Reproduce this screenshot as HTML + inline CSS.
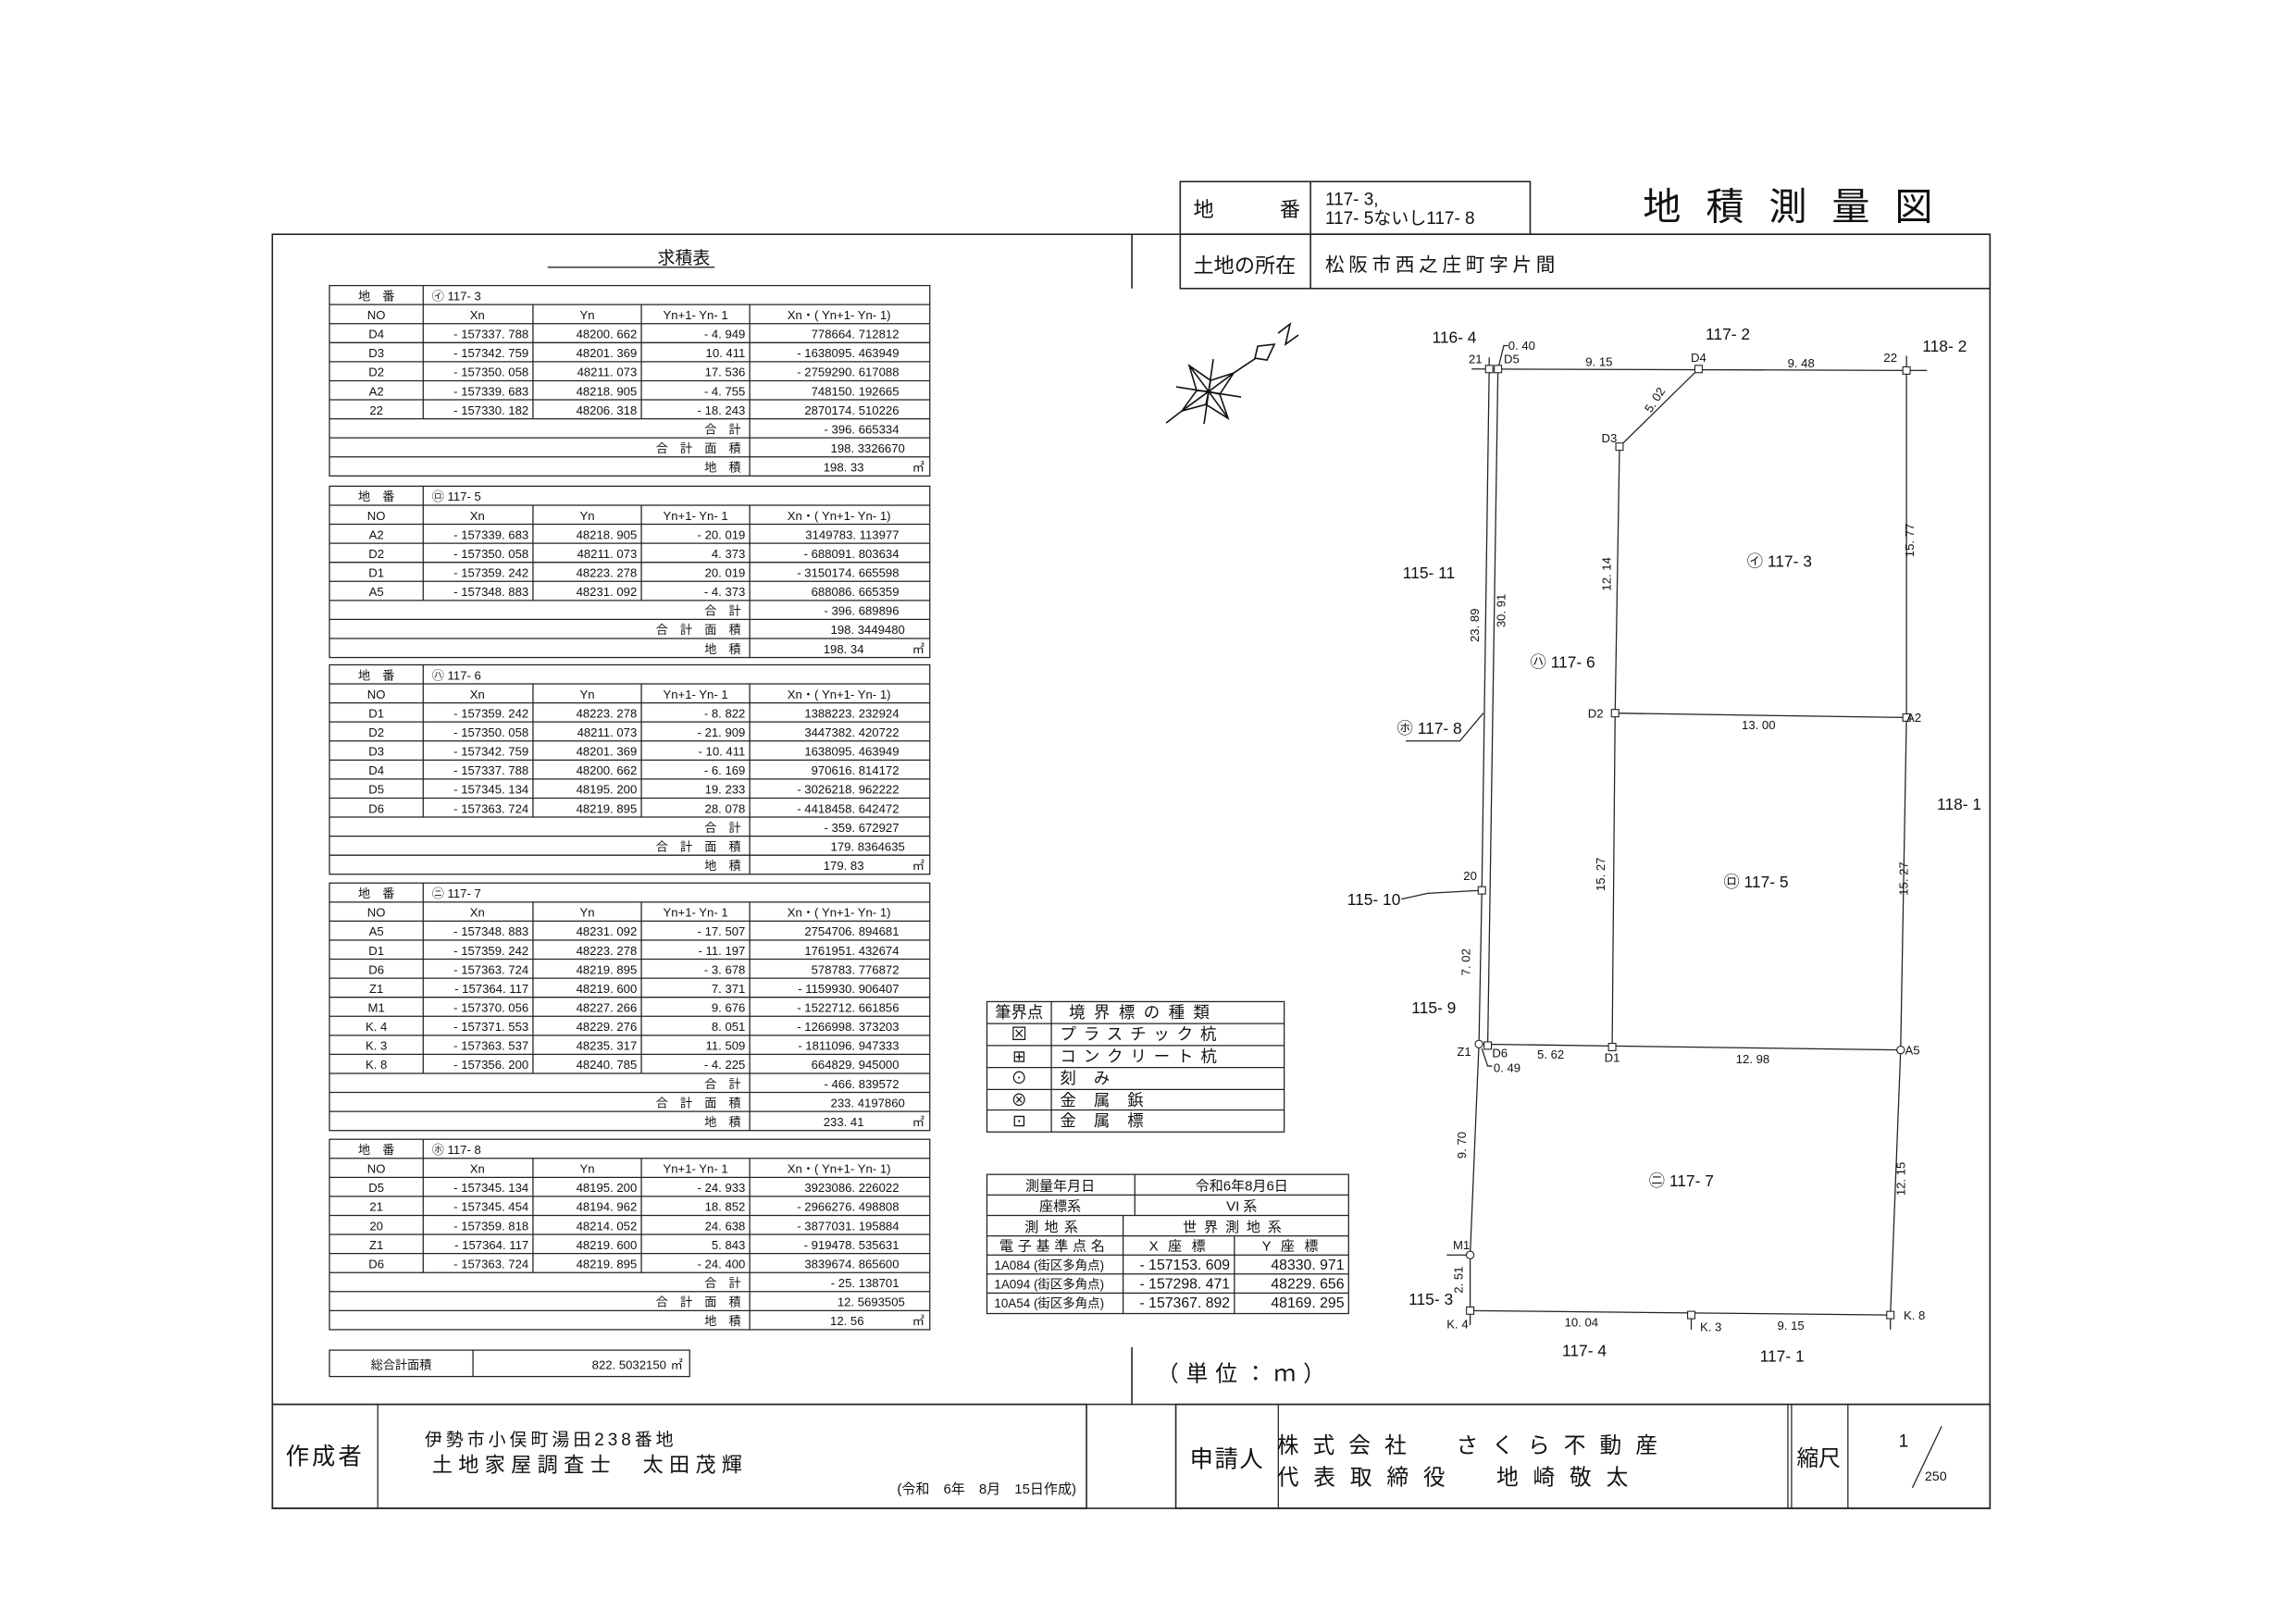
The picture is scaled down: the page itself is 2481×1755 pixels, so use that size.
<!DOCTYPE html>
<html><head><meta charset="utf-8"><style>
html,body{margin:0;padding:0;background:#fff;}
svg{display:block;}
text{font-family:"Liberation Sans","Noto Sans CJK JP",sans-serif;fill:#111;}
.t{font-size:8.3px;}
.e{text-anchor:end;}
.m{text-anchor:middle;}
.l{stroke:#222;stroke-width:0.8;fill:none;}
.th{stroke:#222;stroke-width:1;fill:none;}
.d{font-size:8.3px;}
.lb{font-size:11px;}
.pt{fill:#fff;stroke:#222;stroke-width:0.7;}
</style></head><body>
<svg width="2481" height="1755" viewBox="0 0 1568 1109" preserveAspectRatio="none" xmlns="http://www.w3.org/2000/svg">
<rect x="0" y="0" width="1568" height="1109" fill="#fff"/>

<!-- header boxes -->
<rect x="806" y="124" width="239" height="36" class="th"/>
<line x1="895" y1="124" x2="895" y2="197" class="th"/>
<text x="815" y="148" style="font-size:14px">地</text>
<text x="874" y="148" style="font-size:14px">番</text>
<text x="905" y="140" style="font-size:12px">117- 3,</text>
<text x="905" y="153" style="font-size:12px">117- 5ないし117- 8</text>
<text x="1122" y="150" style="font-size:26px;letter-spacing:17px">地積測量図</text>
<rect x="806" y="160" width="553" height="37" class="th"/>
<text x="815" y="186" style="font-size:14px">土地の所在</text>
<text x="905" y="185" style="font-size:13px;letter-spacing:3px">松阪市西之庄町字片間</text>

<!-- main frame -->
<rect x="186" y="160" width="1173" height="870" class="th"/>
<line x1="773" y1="160" x2="773" y2="197" class="th"/>
<line x1="186" y1="959" x2="1359" y2="959" class="th"/>
<line x1="773" y1="920" x2="773" y2="959" class="th"/>

<!-- 求積表 -->
<text x="467" y="180" class="m" style="font-size:12px">求積表</text>
<line x1="374" y1="182.5" x2="488" y2="182.5" class="l"/>

<!-- Table 1 -->
<g transform="translate(0,195)">
<rect x="225" y="0" width="410" height="130" class="l"/>
<path d="M225 13H635M225 26H635M225 39H635M225 52H635M225 65H635M225 78H635M225 91H635M225 104H635M225 117H635M289 0V91M364 13V91M438 13V91M512 13V130" class="l"/>
<text x="257" y="10" class="t m">地　番</text><text x="295" y="10" class="t">㋑ 117- 3</text>
<text x="257" y="23" class="t m">NO</text><text x="326" y="23" class="t m">Xn</text><text x="401" y="23" class="t m">Yn</text><text x="475" y="23" class="t m">Yn+1- Yn- 1</text><text x="573" y="23" class="t m">Xn・( Yn+1- Yn- 1)</text>
<text x="257" y="36" class="t m">D4</text><text x="361" y="36" class="t e">- 157337. 788</text><text x="435" y="36" class="t e">48200. 662</text><text x="509" y="36" class="t e">- 4. 949</text><text x="614" y="36" class="t e">778664. 712812</text>
<text x="257" y="49" class="t m">D3</text><text x="361" y="49" class="t e">- 157342. 759</text><text x="435" y="49" class="t e">48201. 369</text><text x="509" y="49" class="t e">10. 411</text><text x="614" y="49" class="t e">- 1638095. 463949</text>
<text x="257" y="62" class="t m">D2</text><text x="361" y="62" class="t e">- 157350. 058</text><text x="435" y="62" class="t e">48211. 073</text><text x="509" y="62" class="t e">17. 536</text><text x="614" y="62" class="t e">- 2759290. 617088</text>
<text x="257" y="75" class="t m">A2</text><text x="361" y="75" class="t e">- 157339. 683</text><text x="435" y="75" class="t e">48218. 905</text><text x="509" y="75" class="t e">- 4. 755</text><text x="614" y="75" class="t e">748150. 192665</text>
<text x="257" y="88" class="t m">22</text><text x="361" y="88" class="t e">- 157330. 182</text><text x="435" y="88" class="t e">48206. 318</text><text x="509" y="88" class="t e">- 18. 243</text><text x="614" y="88" class="t e">2870174. 510226</text>
<text x="506" y="101" class="t e">合　計</text><text x="614" y="101" class="t e">- 396. 665334</text>
<text x="506" y="114" class="t e">合　計　面　積</text><text x="618" y="114" class="t e">198. 3326670</text>
<text x="506" y="127" class="t e">地　積</text><text x="590" y="127" class="t e">198. 33</text><text x="623" y="127" class="t">㎡</text>
</g>

<!-- Table 2 -->
<g transform="translate(0,332)">
<rect x="225" y="0" width="410" height="117" class="l"/>
<path d="M225 13H635M225 26H635M225 39H635M225 52H635M225 65H635M225 78H635M225 91H635M225 104H635M289 0V78M364 13V78M438 13V78M512 13V117" class="l"/>
<text x="257" y="10" class="t m">地　番</text><text x="295" y="10" class="t">㋺ 117- 5</text>
<text x="257" y="23" class="t m">NO</text><text x="326" y="23" class="t m">Xn</text><text x="401" y="23" class="t m">Yn</text><text x="475" y="23" class="t m">Yn+1- Yn- 1</text><text x="573" y="23" class="t m">Xn・( Yn+1- Yn- 1)</text>
<text x="257" y="36" class="t m">A2</text><text x="361" y="36" class="t e">- 157339. 683</text><text x="435" y="36" class="t e">48218. 905</text><text x="509" y="36" class="t e">- 20. 019</text><text x="614" y="36" class="t e">3149783. 113977</text>
<text x="257" y="49" class="t m">D2</text><text x="361" y="49" class="t e">- 157350. 058</text><text x="435" y="49" class="t e">48211. 073</text><text x="509" y="49" class="t e">4. 373</text><text x="614" y="49" class="t e">- 688091. 803634</text>
<text x="257" y="62" class="t m">D1</text><text x="361" y="62" class="t e">- 157359. 242</text><text x="435" y="62" class="t e">48223. 278</text><text x="509" y="62" class="t e">20. 019</text><text x="614" y="62" class="t e">- 3150174. 665598</text>
<text x="257" y="75" class="t m">A5</text><text x="361" y="75" class="t e">- 157348. 883</text><text x="435" y="75" class="t e">48231. 092</text><text x="509" y="75" class="t e">- 4. 373</text><text x="614" y="75" class="t e">688086. 665359</text>
<text x="506" y="88" class="t e">合　計</text><text x="614" y="88" class="t e">- 396. 689896</text>
<text x="506" y="101" class="t e">合　計　面　積</text><text x="618" y="101" class="t e">198. 3449480</text>
<text x="506" y="114" class="t e">地　積</text><text x="590" y="114" class="t e">198. 34</text><text x="623" y="114" class="t">㎡</text>
</g>

<!-- Table 3 -->
<g transform="translate(0,454)">
<rect x="225" y="0" width="410" height="143" class="l"/>
<path d="M225 13H635M225 26H635M225 39H635M225 52H635M225 65H635M225 78H635M225 91H635M225 104H635M225 117H635M225 130H635M289 0V104M364 13V104M438 13V104M512 13V143" class="l"/>
<text x="257" y="10" class="t m">地　番</text><text x="295" y="10" class="t">㋩ 117- 6</text>
<text x="257" y="23" class="t m">NO</text><text x="326" y="23" class="t m">Xn</text><text x="401" y="23" class="t m">Yn</text><text x="475" y="23" class="t m">Yn+1- Yn- 1</text><text x="573" y="23" class="t m">Xn・( Yn+1- Yn- 1)</text>
<text x="257" y="36" class="t m">D1</text><text x="361" y="36" class="t e">- 157359. 242</text><text x="435" y="36" class="t e">48223. 278</text><text x="509" y="36" class="t e">- 8. 822</text><text x="614" y="36" class="t e">1388223. 232924</text>
<text x="257" y="49" class="t m">D2</text><text x="361" y="49" class="t e">- 157350. 058</text><text x="435" y="49" class="t e">48211. 073</text><text x="509" y="49" class="t e">- 21. 909</text><text x="614" y="49" class="t e">3447382. 420722</text>
<text x="257" y="62" class="t m">D3</text><text x="361" y="62" class="t e">- 157342. 759</text><text x="435" y="62" class="t e">48201. 369</text><text x="509" y="62" class="t e">- 10. 411</text><text x="614" y="62" class="t e">1638095. 463949</text>
<text x="257" y="75" class="t m">D4</text><text x="361" y="75" class="t e">- 157337. 788</text><text x="435" y="75" class="t e">48200. 662</text><text x="509" y="75" class="t e">- 6. 169</text><text x="614" y="75" class="t e">970616. 814172</text>
<text x="257" y="88" class="t m">D5</text><text x="361" y="88" class="t e">- 157345. 134</text><text x="435" y="88" class="t e">48195. 200</text><text x="509" y="88" class="t e">19. 233</text><text x="614" y="88" class="t e">- 3026218. 962222</text>
<text x="257" y="101" class="t m">D6</text><text x="361" y="101" class="t e">- 157363. 724</text><text x="435" y="101" class="t e">48219. 895</text><text x="509" y="101" class="t e">28. 078</text><text x="614" y="101" class="t e">- 4418458. 642472</text>
<text x="506" y="114" class="t e">合　計</text><text x="614" y="114" class="t e">- 359. 672927</text>
<text x="506" y="127" class="t e">合　計　面　積</text><text x="618" y="127" class="t e">179. 8364635</text>
<text x="506" y="140" class="t e">地　積</text><text x="590" y="140" class="t e">179. 83</text><text x="623" y="140" class="t">㎡</text>
</g>

<!-- Table 4 -->
<g transform="translate(0,603)">
<rect x="225" y="0" width="410" height="169" class="l"/>
<path d="M225 13H635M225 26H635M225 39H635M225 52H635M225 65H635M225 78H635M225 91H635M225 104H635M225 117H635M225 130H635M225 143H635M225 156H635M289 0V130M364 13V130M438 13V130M512 13V169" class="l"/>
<text x="257" y="10" class="t m">地　番</text><text x="295" y="10" class="t">㋥ 117- 7</text>
<text x="257" y="23" class="t m">NO</text><text x="326" y="23" class="t m">Xn</text><text x="401" y="23" class="t m">Yn</text><text x="475" y="23" class="t m">Yn+1- Yn- 1</text><text x="573" y="23" class="t m">Xn・( Yn+1- Yn- 1)</text>
<text x="257" y="36" class="t m">A5</text><text x="361" y="36" class="t e">- 157348. 883</text><text x="435" y="36" class="t e">48231. 092</text><text x="509" y="36" class="t e">- 17. 507</text><text x="614" y="36" class="t e">2754706. 894681</text>
<text x="257" y="49" class="t m">D1</text><text x="361" y="49" class="t e">- 157359. 242</text><text x="435" y="49" class="t e">48223. 278</text><text x="509" y="49" class="t e">- 11. 197</text><text x="614" y="49" class="t e">1761951. 432674</text>
<text x="257" y="62" class="t m">D6</text><text x="361" y="62" class="t e">- 157363. 724</text><text x="435" y="62" class="t e">48219. 895</text><text x="509" y="62" class="t e">- 3. 678</text><text x="614" y="62" class="t e">578783. 776872</text>
<text x="257" y="75" class="t m">Z1</text><text x="361" y="75" class="t e">- 157364. 117</text><text x="435" y="75" class="t e">48219. 600</text><text x="509" y="75" class="t e">7. 371</text><text x="614" y="75" class="t e">- 1159930. 906407</text>
<text x="257" y="88" class="t m">M1</text><text x="361" y="88" class="t e">- 157370. 056</text><text x="435" y="88" class="t e">48227. 266</text><text x="509" y="88" class="t e">9. 676</text><text x="614" y="88" class="t e">- 1522712. 661856</text>
<text x="257" y="101" class="t m">K. 4</text><text x="361" y="101" class="t e">- 157371. 553</text><text x="435" y="101" class="t e">48229. 276</text><text x="509" y="101" class="t e">8. 051</text><text x="614" y="101" class="t e">- 1266998. 373203</text>
<text x="257" y="114" class="t m">K. 3</text><text x="361" y="114" class="t e">- 157363. 537</text><text x="435" y="114" class="t e">48235. 317</text><text x="509" y="114" class="t e">11. 509</text><text x="614" y="114" class="t e">- 1811096. 947333</text>
<text x="257" y="127" class="t m">K. 8</text><text x="361" y="127" class="t e">- 157356. 200</text><text x="435" y="127" class="t e">48240. 785</text><text x="509" y="127" class="t e">- 4. 225</text><text x="614" y="127" class="t e">664829. 945000</text>
<text x="506" y="140" class="t e">合　計</text><text x="614" y="140" class="t e">- 466. 839572</text>
<text x="506" y="153" class="t e">合　計　面　積</text><text x="618" y="153" class="t e">233. 4197860</text>
<text x="506" y="166" class="t e">地　積</text><text x="590" y="166" class="t e">233. 41</text><text x="623" y="166" class="t">㎡</text>
</g>

<!-- Table 5 -->
<g transform="translate(0,778)">
<rect x="225" y="0" width="410" height="130" class="l"/>
<path d="M225 13H635M225 26H635M225 39H635M225 52H635M225 65H635M225 78H635M225 91H635M225 104H635M225 117H635M289 0V91M364 13V91M438 13V91M512 13V130" class="l"/>
<text x="257" y="10" class="t m">地　番</text><text x="295" y="10" class="t">㋭ 117- 8</text>
<text x="257" y="23" class="t m">NO</text><text x="326" y="23" class="t m">Xn</text><text x="401" y="23" class="t m">Yn</text><text x="475" y="23" class="t m">Yn+1- Yn- 1</text><text x="573" y="23" class="t m">Xn・( Yn+1- Yn- 1)</text>
<text x="257" y="36" class="t m">D5</text><text x="361" y="36" class="t e">- 157345. 134</text><text x="435" y="36" class="t e">48195. 200</text><text x="509" y="36" class="t e">- 24. 933</text><text x="614" y="36" class="t e">3923086. 226022</text>
<text x="257" y="49" class="t m">21</text><text x="361" y="49" class="t e">- 157345. 454</text><text x="435" y="49" class="t e">48194. 962</text><text x="509" y="49" class="t e">18. 852</text><text x="614" y="49" class="t e">- 2966276. 498808</text>
<text x="257" y="62" class="t m">20</text><text x="361" y="62" class="t e">- 157359. 818</text><text x="435" y="62" class="t e">48214. 052</text><text x="509" y="62" class="t e">24. 638</text><text x="614" y="62" class="t e">- 3877031. 195884</text>
<text x="257" y="75" class="t m">Z1</text><text x="361" y="75" class="t e">- 157364. 117</text><text x="435" y="75" class="t e">48219. 600</text><text x="509" y="75" class="t e">5. 843</text><text x="614" y="75" class="t e">- 919478. 535631</text>
<text x="257" y="88" class="t m">D6</text><text x="361" y="88" class="t e">- 157363. 724</text><text x="435" y="88" class="t e">48219. 895</text><text x="509" y="88" class="t e">- 24. 400</text><text x="614" y="88" class="t e">3839674. 865600</text>
<text x="506" y="101" class="t e">合　計</text><text x="614" y="101" class="t e">- 25. 138701</text>
<text x="506" y="114" class="t e">合　計　面　積</text><text x="618" y="114" class="t e">12. 5693505</text>
<text x="506" y="127" class="t e">地　積</text><text x="590" y="127" class="t e">12. 56</text><text x="623" y="127" class="t">㎡</text>
</g>

<!-- total -->
<rect x="225" y="922" width="246" height="18" class="l"/>
<line x1="323" y1="922" x2="323" y2="940" class="l"/>
<text x="274" y="935" class="t m">総合計面積</text>
<text x="455" y="935" class="t e">822. 5032150</text><text x="458" y="935" class="t">㎡</text>

<!-- legend -->
<rect x="674" y="684" width="203" height="89" class="l"/>
<path d="M674 699H877M674 714H877M674 729H877M674 744H877M674 758H877M718 684V773" class="l"/>
<text x="696" y="695" class="m" style="font-size:11px">筆界点</text>
<text x="730" y="695" style="font-size:11px;letter-spacing:6px">境界標の種類</text>
<text x="696" y="710" class="m" style="font-size:11px">⊠</text><text x="724" y="710" style="font-size:11px;letter-spacing:5px">プラスチック杭</text>
<text x="696" y="725" class="m" style="font-size:11px">⊞</text><text x="724" y="725" style="font-size:11px;letter-spacing:5px">コンクリート杭</text>
<text x="696" y="740" class="m" style="font-size:11px">⊙</text><text x="724" y="740" style="font-size:11px;letter-spacing:12px">刻み</text>
<text x="696" y="755" class="m" style="font-size:11px">⊗</text><text x="724" y="755" style="font-size:11px;letter-spacing:12px">金属鋲</text>
<text x="696" y="769" class="m" style="font-size:11px">⊡</text><text x="724" y="769" style="font-size:11px;letter-spacing:12px">金属標</text>

<!-- survey table -->
<rect x="674" y="802" width="247" height="95" class="l"/>
<path d="M674 816H921M674 830H921M674 844H921M674 857H921M674 870H921M674 883H921M775 802V830M767 830V897M843 844V897" class="l"/>
<text x="724" y="813" class="m" style="font-size:9.5px">測量年月日</text><text x="848" y="813" class="m" style="font-size:9.5px">令和6年8月6日</text>
<text x="724" y="827" class="m" style="font-size:9.5px">座標系</text><text x="848" y="827" class="m" style="font-size:9.5px">VI 系</text>
<text x="720" y="841" class="m" style="font-size:9.5px;letter-spacing:4px">測地系</text><text x="844" y="841" class="m" style="font-size:9.5px;letter-spacing:5px">世界測地系</text>
<text x="720" y="854" class="m" style="font-size:9.5px;letter-spacing:3px">電子基準点名</text><text x="805" y="854" class="m" style="font-size:9.5px;letter-spacing:2px">X 座 標</text><text x="882" y="854" class="m" style="font-size:9.5px;letter-spacing:2px">Y 座 標</text>
<text x="679" y="867" style="font-size:8.5px">1A084 (街区多角点)</text><text x="840" y="867" class="e" style="font-size:10px">- 157153. 609</text><text x="918" y="867" class="e" style="font-size:10px">48330. 971</text>
<text x="679" y="880" style="font-size:8.5px">1A094 (街区多角点)</text><text x="840" y="880" class="e" style="font-size:10px">- 157298. 471</text><text x="918" y="880" class="e" style="font-size:10px">48229. 656</text>
<text x="679" y="893" style="font-size:8.5px">10A54 (街区多角点)</text><text x="840" y="893" class="e" style="font-size:10px">- 157367. 892</text><text x="918" y="893" class="e" style="font-size:10px">48169. 295</text>

<!-- compass -->
<g transform="scale(0.63203)" stroke="#111" stroke-width="1.6" fill="none">
<polygon points="1285,395 1308,411 1333,403 1318,426 1327,452 1303,437 1277,444 1293,422"/>
<path d="M1306,423L1285,395M1306,423L1333,403M1306,423L1327,452M1306,423L1277,444M1306,423L1308,411M1306,423L1318,426M1306,423L1303,437M1306,423L1293,422"/>
<path d="M1271,418L1341,429M1311,388L1301,458M1260,457L1277,444M1333,403L1357,387"/>
<polygon points="1356,387 1359,374 1377,372 1369,389"/>
<path d="M1381,360L1394,350L1389,372L1403,362"/>
</g>

<!-- parcel drawing -->
<g class="l">
<path d="M1005,252L1316,253"/>
<path d="M1017,244L1017,252L1012,608L1010,713L1004,857L1004,905"/>
<path d="M1023,252L1016,714"/>
<path d="M1160,252L1106,305L1103,487L1101,715"/>
<path d="M1302,243L1302,253L1302,490L1298,717L1291,898L1291,908"/>
<path d="M1103,487L1302,490"/>
<path d="M1010,713L1298,717"/>
<path d="M1004,895L1291,898"/>
<path d="M1155,898L1155,908"/>
<path d="M988,857L1004,857"/>
<path d="M1013,487L997,506L960,506"/>
<path d="M1012,608L975,610L957,614"/>
<path d="M1023,252L1027,236L1030,236"/>
<path d="M1012,716L1016,728L1019,728"/>
</g>
<rect x="1014.5" y="249.5" width="5" height="5" class="pt"/>
<rect x="1020.5" y="249.5" width="5" height="5" class="pt"/>
<rect x="1157.5" y="249.5" width="5" height="5" class="pt"/>
<rect x="1299.5" y="250.5" width="5" height="5" class="pt"/>
<rect x="1103.5" y="302.5" width="5" height="5" class="pt"/>
<rect x="1100.5" y="484.5" width="5" height="5" class="pt"/>
<rect x="1299.5" y="487.5" width="5" height="5" class="pt"/>
<rect x="1009.5" y="605.5" width="5" height="5" class="pt"/>
<circle cx="1010" cy="713" r="2.6" class="pt"/>
<rect x="1013.5" y="711.5" width="5" height="5" class="pt"/>
<rect x="1098.5" y="712.5" width="5" height="5" class="pt"/>
<circle cx="1298" cy="717" r="2.6" class="pt"/>
<circle cx="1004" cy="857" r="2.6" class="pt"/>
<rect x="1001.5" y="892.5" width="5" height="5" class="pt"/>
<rect x="1152.5" y="895.5" width="5" height="5" class="pt"/>
<rect x="1288.5" y="895.5" width="5" height="5" class="pt"/>

<text x="978" y="234" class="lb">116- 4</text>
<text x="1030" y="239" class="d">0. 40</text>
<text x="1003" y="248" class="d">21</text>
<text x="1027" y="248" class="d">D5</text>
<text x="1092" y="250" class="d m">9. 15</text>
<text x="1160" y="247" class="d m">D4</text>
<text x="1230" y="251" class="d m">9. 48</text>
<text x="1291" y="247" class="d m">22</text>
<text x="1180" y="232" class="lb m">117- 2</text>
<text x="1328" y="240" class="lb m">118- 2</text>
<text x="1130" y="276" class="d m" transform="rotate(-57 1130 273)">5. 02</text>
<text x="1099" y="302" class="d m">D3</text>
<text x="1103" y="395" class="d m" transform="rotate(-90 1100 395)">12. 14</text>
<text x="1310" y="372" class="d m" transform="rotate(-90 1307 372)">15. 77</text>
<text x="1193" y="387" class="lb">㋑ 117- 3</text>
<text x="958" y="395" class="lb">115- 11</text>
<text x="1013" y="430" class="d m" transform="rotate(-90 1010 430)">23. 89</text>
<text x="1031" y="420" class="d m" transform="rotate(-90 1028 420)">30. 91</text>
<text x="1045" y="456" class="lb">㋩ 117- 6</text>
<text x="1095" y="490" class="d e">D2</text>
<text x="1201" y="498" class="d m">13. 00</text>
<text x="1302" y="493" class="d">A2</text>
<text x="1338" y="553" class="lb m">118- 1</text>
<text x="954" y="501" class="lb">㋭ 117- 8</text>
<text x="1099" y="600" class="d m" transform="rotate(-90 1096 600)">15. 27</text>
<text x="1177" y="606" class="lb">㋺ 117- 5</text>
<text x="1306" y="603" class="d m" transform="rotate(-90 1303 603)">15. 27</text>
<text x="1004" y="601" class="d m">20</text>
<text x="920" y="618" class="lb">115- 10</text>
<text x="1007" y="660" class="d m" transform="rotate(-90 1004 660)">7. 02</text>
<text x="964" y="692" class="lb">115- 9</text>
<text x="995" y="721" class="d">Z1</text>
<text x="1019" y="722" class="d">D6</text>
<text x="1059" y="723" class="d m">5. 62</text>
<text x="1101" y="725" class="d m">D1</text>
<text x="1197" y="726" class="d m">12. 98</text>
<text x="1301" y="720" class="d">A5</text>
<text x="1020" y="732" class="d">0. 49</text>
<text x="1004" y="785" class="d m" transform="rotate(-90 1001 785)">9. 70</text>
<text x="1126" y="810" class="lb">㊁ 117- 7</text>
<text x="1304" y="808" class="d m" transform="rotate(-90 1301 808)">12. 15</text>
<text x="998" y="853" class="d m">M1</text>
<text x="1002" y="877" class="d m" transform="rotate(-90 999 877)">2. 51</text>
<text x="962" y="891" class="lb">115- 3</text>
<text x="988" y="907" class="d">K. 4</text>
<text x="1080" y="906" class="d m">10. 04</text>
<text x="1161" y="909" class="d">K. 3</text>
<text x="1223" y="908" class="d m">9. 15</text>
<text x="1300" y="901" class="d">K. 8</text>
<text x="1082" y="926" class="lb m">117- 4</text>
<text x="1217" y="930" class="lb m">117- 1</text>
<text x="790" y="943" style="font-size:15px;letter-spacing:5px">（単位：ｍ）</text>

<!-- bottom blocks -->
<rect x="186" y="959" width="556" height="71" class="th"/>
<line x1="258" y1="959" x2="258" y2="1030" class="l"/>
<text x="222" y="1000" class="m" style="font-size:16px;letter-spacing:2px">作成者</text>
<text x="290" y="987" style="font-size:12px;letter-spacing:2.5px">伊勢市小俣町湯田238番地</text>
<text x="295" y="1005" style="font-size:14px;letter-spacing:4px">土地家屋調査士　太田茂輝</text>
<text x="735" y="1020" class="e" style="font-size:9.5px">(令和　6年　8月　15日作成)</text>
<rect x="803" y="959" width="556" height="71" class="th"/>
<line x1="873" y1="959" x2="873" y2="1030" class="l"/>
<line x1="1221" y1="959" x2="1221" y2="1030" class="l"/>
<line x1="1223.5" y1="959" x2="1223.5" y2="1030" class="l"/>
<line x1="1262" y1="959" x2="1262" y2="1030" class="l"/>
<text x="838" y="1002" class="m" style="font-size:16px;letter-spacing:1px">申請人</text>
<text x="872" y="992" style="font-size:15px;letter-spacing:9.5px">株式会社　さくら不動産</text>
<text x="872" y="1014" style="font-size:15px;letter-spacing:10px">代表取締役　地崎敬太</text>
<text x="1242" y="1001" class="m" style="font-size:15px">縮尺</text>
<text x="1300" y="988" class="m" style="font-size:12px">1</text>
<line x1="1326" y1="974" x2="1306" y2="1016" class="l"/>
<text x="1322" y="1011" class="m" style="font-size:9px">250</text>
</svg>
</body></html>
